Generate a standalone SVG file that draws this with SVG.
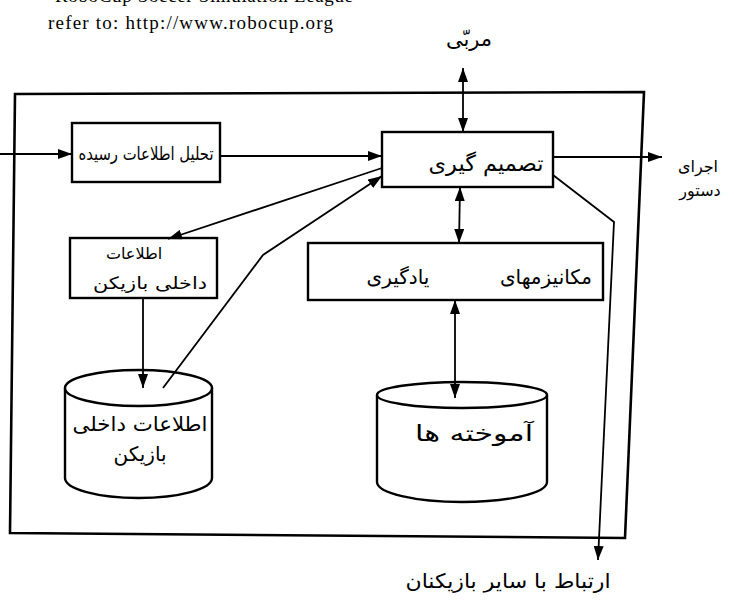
<svg xmlns="http://www.w3.org/2000/svg" width="734" height="604" viewBox="0 0 734 604">
  <style>
    .box { fill: #fff; stroke: #000; stroke-width: 2.4; }
    .frame { fill: none; stroke: #000; stroke-width: 2.6; stroke-linejoin: miter; }
    .wire { fill: none; stroke: #000; stroke-width: 1.8; }
    .fa { font-family: "DejaVu Sans", sans-serif; fill: #000; text-anchor: middle; }
    .en { font-family: "Liberation Serif", serif; fill: #000; }
  </style>
  <defs>
    <marker id="head" viewBox="0 0 14 10" refX="14" refY="5" markerWidth="14" markerHeight="10" markerUnits="userSpaceOnUse" orient="auto-start-reverse">
      <path d="M0,0 L14,5 L0,10 z" fill="#000"/>
    </marker>
  </defs>

  <rect width="734" height="604" fill="#fff"/>

  <!-- source note -->
  <g id="note">
    <text class="en" x="55" y="2" font-size="19" textLength="298" lengthAdjust="spacing">RoboCup Soccer Simulation League</text>
    <text class="en" x="48" y="29" font-size="19" textLength="285" lengthAdjust="spacing">refer to: http://www.robocup.org</text>
  </g>

  <!-- agent boundary -->
  <path id="agent-frame" class="frame" d="M15,94 L644,92 L625,538 L10,533 Z"/>

  <!-- nodes -->
  <g id="analysis">
    <rect class="box" x="72" y="123" width="148" height="59"/>
    <text class="fa" x="146" y="160" font-size="18" textLength="135" lengthAdjust="spacingAndGlyphs">تحلیل اطلاعات رسیده</text>
  </g>

  <g id="decision">
    <rect class="box" x="382" y="132" width="171" height="55"/>
    <text class="fa" x="486" y="171" font-size="22" textLength="115" lengthAdjust="spacingAndGlyphs">تصمیم گیری</text>
  </g>

  <g id="coach">
    <text class="fa" x="469" y="46" font-size="21">مربّی</text>
  </g>

  <g id="command">
    <text class="fa" x="698" y="172" font-size="16">اجرای</text>
    <text class="fa" x="700" y="196" font-size="16">دستور</text>
  </g>

  <g id="internal-info">
    <rect class="box" x="70" y="238" width="147" height="60"/>
    <text class="fa" x="134" y="259" font-size="16">اطلاعات</text>
    <text class="fa" x="150" y="289" font-size="17" textLength="114" lengthAdjust="spacingAndGlyphs">داخلی بازیکن</text>
  </g>

  <g id="learning">
    <rect class="box" x="308" y="243" width="295" height="57"/>
    <text class="fa" x="546" y="284" font-size="20">مکانیزمهای</text>
    <text class="fa" x="398" y="284" font-size="20">یادگیری</text>
  </g>

  <g id="internal-store">
    <path class="box" d="M65,388 L65,478 A73.5,20 0 0 0 212,478 L212,388"/>
    <ellipse class="box" cx="138.5" cy="388" rx="73.5" ry="18"/>
    <text class="fa" x="140" y="431" font-size="20" textLength="135" lengthAdjust="spacingAndGlyphs">اطلاعات داخلی</text>
    <text class="fa" x="140" y="461" font-size="20">بازیکن</text>
  </g>

  <g id="learned-store">
    <path class="box" d="M377,395 L377,482 A85,20 0 0 0 547,482 L547,395"/>
    <ellipse class="box" cx="462" cy="395" rx="85" ry="13"/>
    <text class="fa" x="474" y="441" font-size="22" textLength="118" lengthAdjust="spacingAndGlyphs">آموخته ها</text>
  </g>

  <g id="teammates">
    <text class="fa" x="508" y="588" font-size="20" textLength="205" lengthAdjust="spacingAndGlyphs">ارتباط با سایر بازیکنان</text>
  </g>

  <!-- connectors, drawn above the nodes so heads inside the store lids stay visible -->
  <g id="connectors">
    <!-- incoming sensor data -->
    <line class="wire" x1="0" y1="154" x2="72" y2="154" marker-end="url(#head)"/>
    <!-- analysis to decision -->
    <line class="wire" x1="220" y1="156" x2="382" y2="156" marker-end="url(#head)"/>
    <!-- coach link -->
    <line class="wire" x1="463" y1="68" x2="463" y2="132" marker-start="url(#head)" marker-end="url(#head)"/>
    <!-- command output -->
    <line class="wire" x1="553" y1="157" x2="662" y2="157" marker-end="url(#head)"/>
    <!-- decision to learning -->
    <line class="wire" x1="460" y1="187" x2="459" y2="243" marker-start="url(#head)" marker-end="url(#head)"/>
    <!-- learning to learned store -->
    <line class="wire" x1="455" y1="300" x2="455" y2="398" marker-start="url(#head)" marker-end="url(#head)"/>
    <!-- decision to internal info box -->
    <line class="wire" x1="382" y1="168" x2="168" y2="239" marker-end="url(#head)"/>
    <!-- internal info box to store -->
    <line class="wire" x1="143" y1="298" x2="143" y2="388" marker-end="url(#head)"/>
    <!-- store back to decision -->
    <polyline class="wire" points="163,388 263,255 382,176" marker-end="url(#head)"/>
    <!-- communication with teammates -->
    <polyline class="wire" points="553,175 614,222 598,560" marker-end="url(#head)"/>
  </g>
</svg>
